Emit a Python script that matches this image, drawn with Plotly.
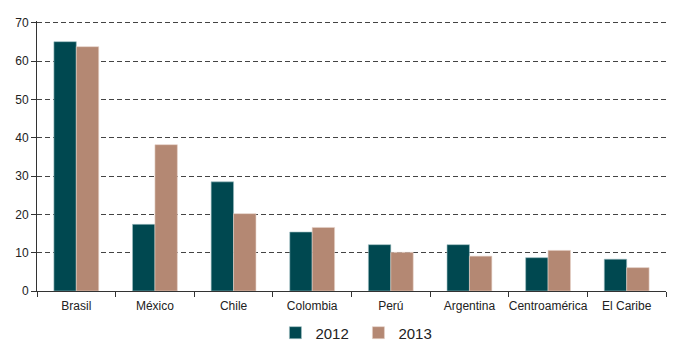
import plotly.graph_objects as go

categories = ["Brasil", "México", "Chile", "Colombia", "Perú", "Argentina", "Centroamérica", "El Caribe"]
values_2012 = [65.1, 17.4, 28.5, 15.4, 12.1, 12.1, 8.7, 8.3]
values_2013 = [63.8, 38.2, 20.2, 16.6, 10.1, 9.1, 10.6, 6.1]
y_ticks = [0, 10, 20, 30, 40, 50, 60, 70]

fig = go.Figure()
fig.add_trace(go.Bar(name="2012", x=categories, y=values_2012,
                     marker=dict(color="#004850", line=dict(color="#9fbfc2", width=0.6))))
fig.add_trace(go.Bar(name="2013", x=categories, y=values_2013,
                     marker=dict(color="#B48873", line=dict(color="#e6d2c8", width=0.6))))

fig.update_layout(
    width=692, height=349,
    margin=dict(l=29, r=34, t=13, b=66),
    plot_bgcolor="white", paper_bgcolor="white",
    barmode="group", bargap=0.43, bargroupgap=0,
    font=dict(family="Liberation Sans, Arial, sans-serif", size=12, color="#222"),
    legend=dict(orientation="h", x=0.511, xanchor="center",
                yref="container", y=0.069, yanchor="middle",
                font=dict(size=15, color="#222"), entrywidth=38, itemwidth=30),
    showlegend=True,
)
fig.update_xaxes(
    showline=True, linecolor="#333", linewidth=1, tickangle=0, automargin=False,
    ticks="outside", ticklen=5, tickcolor="#333", tickson="boundaries",
    ticklabelstandoff=4, showgrid=False, mirror=False,
)
fig.update_yaxes(
    range=[0, 70.5], tickvals=y_ticks, showline=True, linecolor="#333", linewidth=1,
    ticks="outside", ticklen=5, tickcolor="#333", automargin=False,
    showgrid=True, gridcolor="#444", griddash="5px,3px", gridwidth=1,
    zeroline=False,
)
fig.write_html("out.html")
